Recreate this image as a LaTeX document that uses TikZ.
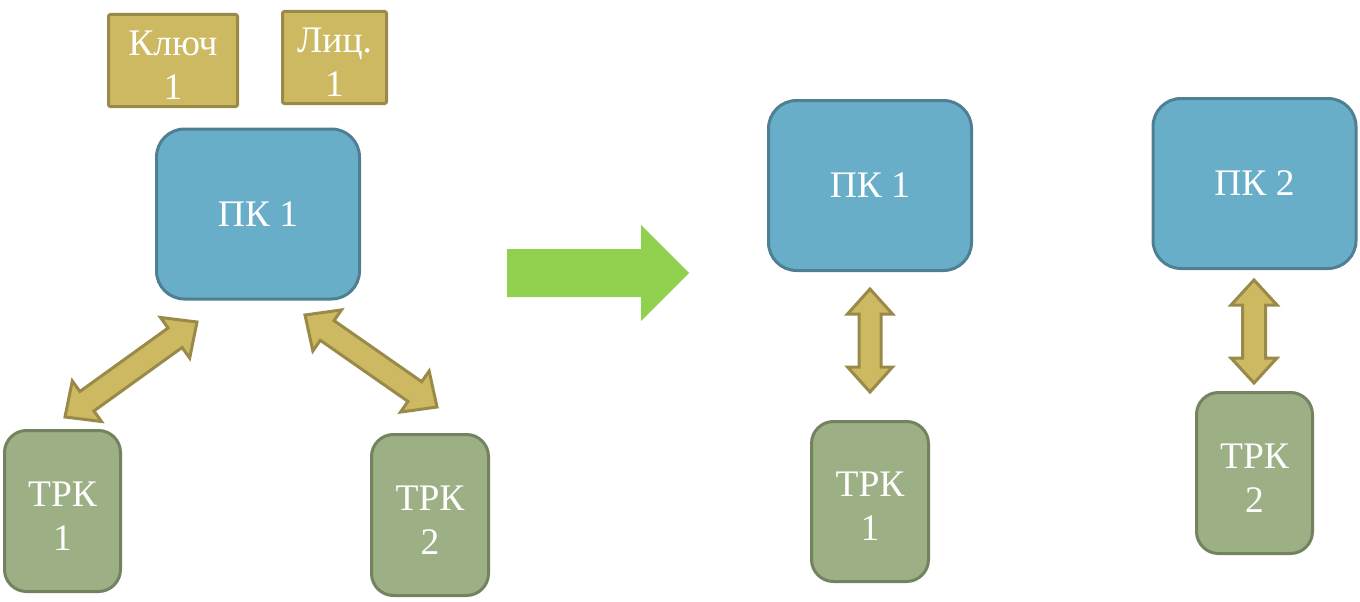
\documentclass[tikz,border=0pt]{standalone}
\usepackage{fontspec}
\setmainfont{Liberation Serif}
\usetikzlibrary{calc}
\definecolor{goldfill}{HTML}{CDB962}
\definecolor{golddraw}{HTML}{9A8A4A}
\definecolor{bluefill}{HTML}{69AEC9}
\definecolor{bluedraw}{HTML}{4E7F92}
\definecolor{sagefill}{HTML}{9DAF84}
\definecolor{sagedraw}{HTML}{738360}
\definecolor{brightgreen}{HTML}{92D050}
\tikzset{
  basebox/.style={rectangle, line width=3pt, text=white, align=center,
    font=\fontsize{37.5}{44}\selectfont, inner sep=0pt},
  pcbox/.style={basebox, fill=bluefill, draw=bluedraw, rounded corners=28pt,
    minimum width=203pt, minimum height=170pt},
  trkbox/.style={basebox, fill=sagefill, draw=sagedraw, rounded corners=22pt,
    minimum width=116pt, minimum height=161pt},
  tagbox/.style={basebox, fill=goldfill, draw=golddraw, rounded corners=2pt,
    minimum height=92pt},
  goldarrow/.style={fill=goldfill, draw=golddraw, line width=3pt, line join=miter},
  bigarrow/.style={fill=brightgreen, draw=none}
}
\newcommand\dn{\rule{0pt}{34pt}}
% double block arrow between two named points: #1 A, #2 B, #3 head length, #4 head half width, #5 shaft half width
\newcommand\blockdbl[5]{%
  \coordinate (ba1) at ($(#1)!#3!(#2)$);
  \coordinate (bb1) at ($(#2)!#3!(#1)$);
  \draw[goldarrow] (#1) -- ($(ba1)!#4!90:(#2)$) -- ($(ba1)!#5!90:(#2)$)
    -- ($(bb1)!#5!-90:(#1)$) -- ($(bb1)!#4!-90:(#1)$) -- (#2)
    -- ($(bb1)!#4!90:(#1)$) -- ($(bb1)!#5!90:(#1)$)
    -- ($(ba1)!#5!-90:(#2)$) -- ($(ba1)!#4!-90:(#2)$) -- cycle;
}
\begin{document}
\begin{tikzpicture}[x=1pt, y=-1pt]
\useasboundingbox (0,0) rectangle (1360,602);

% left group
\node[tagbox, minimum width=129pt] (key1) at (173,60.5) {\dn Ключ\\1};
\node[tagbox, minimum width=104pt] (lic1) at (334.5,57.5) {\dn Лиц.\\1};
\node[pcbox] (pc1l) at (258,214) {ПК 1};
\node[trkbox] (trk1l) at (62.5,511) {\dn ТРК\\1};
\node[trkbox, minimum width=117pt] (trk2l) at (430,515) {\dn ТРК\\2};

\coordinate (a1s) at (65,417);
\coordinate (a1e) at (197,322);
\coordinate (a2s) at (305,315);
\coordinate (a2e) at (437,407);
\blockdbl{a1s}{a1e}{27pt}{25pt}{12pt}
\blockdbl{a2s}{a2e}{27pt}{25pt}{12pt}

% transition arrow
\path[bigarrow] (507,249) -- (641,249) -- (641,225) -- (689,273)
  -- (641,321) -- (641,297) -- (507,297) -- cycle;

% right group
\node[pcbox] (pc1r) at (870,185.5) {ПК 1};
\node[pcbox] (pc2r) at (1254.5,183.5) {ПК 2};
\node[trkbox, minimum width=117pt, minimum height=160pt] (trk1r) at (870,501.5) {\dn ТРК\\1};
\node[trkbox] (trk2r) at (1254.5,473) {\dn ТРК\\2};

\coordinate (a3s) at (870,289);
\coordinate (a3e) at (870,392);
\coordinate (a4s) at (1254,280);
\coordinate (a4e) at (1254,383);
\blockdbl{a3s}{a3e}{25pt}{22.5pt}{11pt}
\blockdbl{a4s}{a4e}{25pt}{23pt}{11.5pt}
\end{tikzpicture}
\end{document}
